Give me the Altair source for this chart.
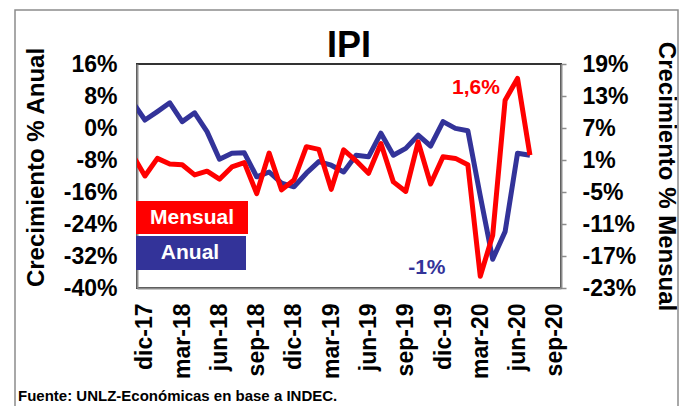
import altair as alt
import pandas as pd

# ---------------- data ----------------
meses = ["nov-17", "dic-17", "ene-18", "feb-18", "mar-18", "abr-18", "may-18", "jun-18",
         "jul-18", "ago-18", "sep-18", "oct-18", "nov-18", "dic-18", "ene-19", "feb-19",
         "mar-19", "abr-19", "may-19", "jun-19", "jul-19", "ago-19", "sep-19", "oct-19",
         "nov-19", "dic-19", "ene-20", "feb-20", "mar-20", "abr-20", "may-20", "jun-20",
         "jul-20"]
anual = [6.5, 2.0, 4.1, 6.3, 1.6, 3.8, -0.9, -7.8, -6.3, -6.2, -12.2, -11.0, -13.8,
         -14.7, -11.3, -8.4, -9.3, -11.0, -6.8, -7.2, -1.3, -6.8, -5.1, -1.8, -4.5,
         1.6, -0.1, -0.7, -17.0, -32.8, -25.9, -6.3, -6.8]
mensual = [2.0, -2.0, 1.3, 0.25, 0.1, -1.8, -1.1, -2.6, -0.3, 0.5, -5.3, 2.3, -4.6,
           -2.75, 3.5, 3.0, -4.5, 2.9, 0.85, -1.5, 4.1, -3.1, -4.9, 4.4, -3.5,
           1.6, 1.3, 0.1, -20.8, -13.1, 12.2, 16.3, 1.9]
etiquetas_x = ["dic-17", "mar-18", "jun-18", "sep-18", "dic-18", "mar-19", "jun-19",
               "sep-19", "dic-19", "mar-20", "jun-20", "sep-20"]
ticks_x = [0, 3, 6, 9, 12, 15, 18, 21, 24, 27, 30, 33]
ticks_anual = [-40, -32, -24, -16, -8, 0, 8, 16]
ticks_mensual = [-23, -17, -11, -5, 1, 7, 13, 19]
leyenda = ["Mensual", "Anual"]
nota_mensual = ["1,6%"]
nota_mensual_pos = [26.65, 14.5]
nota_anual = ["-1%"]
nota_anual_pos = [22.7, -35.0]
titulo = "IPI"
fuente = "Fuente: UNLZ-Económicas en base a INDEC."

ROJO = "#FF0000"
AZUL = "#333399"
GRIS = "#8c8c8c"
FONT = "Liberation Sans"

df = pd.DataFrame({
    "mes": meses,
    "m": [i - 1 for i in range(len(meses))],
    "anual": anual,
    "mensual": mensual,
})

x_scale = alt.Scale(domain=[-0.64, 33.5], nice=False, zero=False)
js_arr = "[" + ",".join("'" + e + "'" for e in etiquetas_x) + "]"
x_axis = alt.Axis(values=ticks_x, labelExpr=js_arr + "[round(datum.value/3)]",
                  labelAngle=270, labelAlign="right", labelBaseline="middle",
                  labelPadding=15, ticks=False, tickSize=0, domainColor=GRIS,
                  domainWidth=2, title=None, grid=False, labelFlush=False,
                  labelOverlap=False)

y_anual_scale = alt.Scale(domain=[-40, 16], nice=False, zero=False)
y_mensual_scale = alt.Scale(domain=[-23, 19], nice=False, zero=False)

axis_anual = alt.Axis(orient="left", values=ticks_anual, labelExpr="datum.value + '%'",
                      title="Crecimiento % Anual", ticks=False, tickSize=0,
                      labelPadding=20, domainColor=GRIS, domainWidth=2, grid=False,
                      labelFlush=False, labelOverlap=False,
                      titleX=-101, titleY=103, titleAngle=270, titleAlign="center",
                      titleBaseline="middle", titleFontSize=24)
axis_mensual = alt.Axis(orient="right", values=ticks_mensual,
                        labelExpr="datum.value + '%'",
                        title="Crecimiento % Mensual", ticks=True, tickSize=5,
                        tickColor=GRIS, tickWidth=1.5, labelPadding=16,
                        domainColor=GRIS, domainWidth=2, grid=False, labelFlush=False,
                        labelOverlap=False, labelAlign="left",
                        titleX=104, titleY=112, titleAngle=90, titleAlign="center",
                        titleBaseline="middle", titleFontSize=24)

linea_anual = alt.Chart(df).mark_line(color=AZUL, strokeWidth=5, clip=True,
                                       strokeJoin="round").encode(
    x=alt.X("m:Q", scale=x_scale, axis=x_axis),
    y=alt.Y("anual:Q", scale=y_anual_scale, axis=axis_anual),
)
texto_anual = alt.Chart(pd.DataFrame({"t": nota_anual, "m": [nota_anual_pos[0]],
                                      "v": [nota_anual_pos[1]]})).mark_text(
    color=AZUL, fontSize=21, fontWeight="bold", font=FONT, align="center",
    baseline="middle").encode(
    x=alt.X("m:Q", scale=x_scale, axis=x_axis),
    y=alt.Y("v:Q", scale=y_anual_scale, axis=axis_anual),
    text="t:N",
)

linea_mensual = alt.Chart(df).mark_line(color=ROJO, strokeWidth=5, clip=True,
                                         strokeJoin="round").encode(
    x=alt.X("m:Q", scale=x_scale, axis=x_axis),
    y=alt.Y("mensual:Q", scale=y_mensual_scale, axis=axis_mensual),
)
texto_mensual = alt.Chart(pd.DataFrame({"t": nota_mensual, "m": [nota_mensual_pos[0]],
                                        "v": [nota_mensual_pos[1]]})).mark_text(
    color=ROJO, fontSize=21, fontWeight="bold", font=FONT, align="center",
    baseline="middle").encode(
    x=alt.X("m:Q", scale=x_scale, axis=x_axis),
    y=alt.Y("v:Q", scale=y_mensual_scale, axis=axis_mensual),
    text="t:N",
)

grupo_anual = alt.layer(linea_anual, texto_anual)
grupo_mensual = alt.layer(linea_mensual, texto_mensual)

# decorations: frame, title, legend boxes, source
marco = alt.Chart(pd.DataFrame({"t": [fuente]})).mark_rect(
    fillOpacity=0, stroke=GRIS, strokeWidth=1.5).encode(
    x=alt.value(-122), x2=alt.value(541), y=alt.value(-54), y2=alt.value(360))

txt_titulo = alt.Chart(pd.DataFrame({"t": [titulo]})).mark_text(
    color="black", fontSize=36, fontWeight="bold",
    font="Liberation Sans Narrow, Liberation Sans", align="center",
    baseline="alphabetic").encode(x=alt.value(212), y=alt.value(-7), text="t:N")

ley_df_m = pd.DataFrame({"t": [leyenda[0]]})
ley_df_a = pd.DataFrame({"t": [leyenda[1]]})
caja_m = alt.Chart(ley_df_m).mark_rect(color=ROJO).encode(
    x=alt.value(-1), x2=alt.value(111), y=alt.value(137), y2=alt.value(170))
caja_a = alt.Chart(ley_df_a).mark_rect(color=AZUL).encode(
    x=alt.value(-1), x2=alt.value(109), y=alt.value(172), y2=alt.value(206))
txt_m = alt.Chart(ley_df_m).mark_text(color="white", fontSize=21, fontWeight="bold",
                                      font=FONT, align="center",
                                      baseline="middle").encode(
    x=alt.value(55), y=alt.value(154), text="t:N")
txt_a = alt.Chart(ley_df_a).mark_text(color="white", fontSize=21, fontWeight="bold",
                                      font=FONT, align="center",
                                      baseline="middle").encode(
    x=alt.value(53), y=alt.value(189), text="t:N")
txt_fuente = alt.Chart(pd.DataFrame({"t": [fuente]})).mark_text(
    color="black", fontSize=15, fontWeight="bold", font=FONT, align="left",
    baseline="middle").encode(x=alt.value(-119), y=alt.value(332), text="t:N")

chart = alt.layer(
    marco, txt_titulo, grupo_anual, grupo_mensual, caja_m, caja_a, txt_m, txt_a,
    txt_fuente
).resolve_scale(y="independent").properties(
    width=424, height=224,
    autosize=alt.AutoSizeParams(type="none"),
    padding={"left": 129, "top": 56, "right": 118, "bottom": 118},
).configure_axis(
    labelFont=FONT, labelFontSize=23, labelFontWeight="bold", labelColor="black",
    titleFont=FONT, titleFontWeight="bold", titleColor="black",
).configure_view(stroke="#333333", strokeWidth=2)

chart.save("out.html", embed_options={"renderer": "svg", "actions": False})
